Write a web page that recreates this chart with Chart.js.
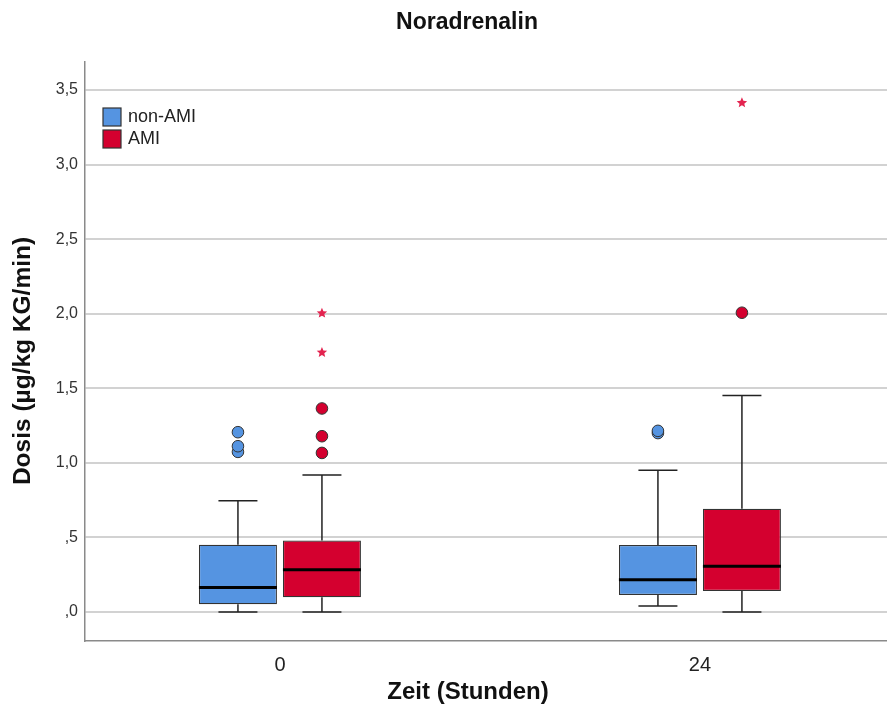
<!DOCTYPE html>
<html>
<head>
<meta charset="utf-8">
<script src="https://cdn.jsdelivr.net/npm/chart.js@4.4.1/dist/chart.umd.min.js"></script>
<style>
  body { margin: 0; background: #fff; }
  canvas { display: block; }
</style>
</head>
<body>
<canvas id="boxplotNoradrenalin" width="887" height="709"></canvas>
<script>
// Zeitpunkte (Stunden)
const zeitpunkte = ['0', '24'];
const yTicks = [0, 0.5, 1, 1.5, 2, 2.5, 3, 3.5];

// non-AMI
const nonAmiMin = [0.0, 0.04];
const nonAmiQ1 = [0.052, 0.115];
const nonAmiMedian = [0.164, 0.216];
const nonAmiQ3 = [0.451, 0.449];
const nonAmiMax = [0.747, 0.951];
const nonAmiAusreisser = [[1.074, 1.112, 1.206], [1.20, 1.215]];
const nonAmiExtrem = [[], []];

// AMI
const amiMin = [0.0, 0.0];
const amiQ1 = [0.099, 0.141];
const amiMedian = [0.283, 0.308];
const amiQ3 = [0.480, 0.692];
const amiMax = [0.919, 1.452];
const amiAusreisser = [[1.067, 1.179, 1.365], [2.007]];
const amiExtrem = [[1.740, 2.004], [3.414]];

const blau = '#5594e1';
const rot = '#d4002f';
const stern = '#e3234f';
const schrift = "'Liberation Sans', Arial, sans-serif";

const stats = [
	{ min: nonAmiMin, med: nonAmiMedian, max: nonAmiMax, out: nonAmiAusreisser, ext: nonAmiExtrem, color: blau },
	{ min: amiMin, med: amiMedian, max: amiMax, out: amiAusreisser, ext: amiExtrem, color: rot },
];

function stern5(ctx, x, y, r) {
	ctx.beginPath();
	for (let k = 0; k < 10; k++) {
		const rr = k % 2 === 0 ? r : r * 0.45;
		const a = -Math.PI / 2 + k * Math.PI / 5;
		ctx.lineTo(x + rr * Math.cos(a), y + rr * Math.sin(a));
	}
	ctx.closePath();
	ctx.fill();
}

const boxPlugin = {
	id: 'boxWhiskers',
	afterDatasetsDraw(chart) {
		const ctx = chart.ctx;
		const ys = chart.scales.y;
		chart.data.datasets.forEach(function (ds, di) {
			const st = stats[di];
			const meta = chart.getDatasetMeta(di);
			meta.data.forEach(function (bar, i) {
				const x = bar.x;
				const half = bar.width / 2;
				const cap = half / 2;
				const pMax = ys.getPixelForValue(st.max[i]);
				const pMin = ys.getPixelForValue(st.min[i]);
				const pQ3 = ys.getPixelForValue(ds.data[i].y[1]);
				const pQ1 = ys.getPixelForValue(ds.data[i].y[0]);
				const pMed = ys.getPixelForValue(st.med[i]);

				ctx.save();
				ctx.strokeStyle = '#222';
				ctx.lineWidth = 1.5;
				ctx.beginPath();
				ctx.moveTo(x, pQ3); ctx.lineTo(x, pMax);
				ctx.moveTo(x - cap, pMax); ctx.lineTo(x + cap, pMax);
				ctx.moveTo(x, pQ1); ctx.lineTo(x, pMin);
				ctx.moveTo(x - cap, pMin); ctx.lineTo(x + cap, pMin);
				ctx.stroke();

				ctx.strokeStyle = '#000';
				ctx.lineWidth = 3;
				ctx.beginPath();
				ctx.moveTo(x - half, pMed); ctx.lineTo(x + half, pMed);
				ctx.stroke();

				ctx.fillStyle = st.color;
				ctx.strokeStyle = '#333';
				ctx.lineWidth = 1;
				st.out[i].forEach(function (v) {
					ctx.beginPath();
					ctx.arc(x, ys.getPixelForValue(v), 5.8, 0, Math.PI * 2);
					ctx.fill();
					ctx.stroke();
				});
				ctx.fillStyle = stern;
				st.ext[i].forEach(function (v) {
					stern5(ctx, x, ys.getPixelForValue(v), 5.5);
				});
				ctx.restore();
			});
		});
	},
	afterDraw(chart) {
		const ctx = chart.ctx;
		ctx.save();
		ctx.fillStyle = '#111';
		ctx.textAlign = 'center';
		ctx.textBaseline = 'middle';
		ctx.font = 'bold 23px ' + schrift;
		ctx.fillText('Noradrenalin', 467, 23);
		ctx.font = 'bold 24px ' + schrift;
		ctx.fillText('Zeit (Stunden)', 468, 692);
		ctx.translate(23, 361);
		ctx.rotate(-Math.PI / 2);
		ctx.font = 'bold 24.5px ' + schrift;
		ctx.fillText('Dosis (µg/kg KG/min)', 0, 0);
		ctx.restore();

		// Legende
		ctx.save();
		ctx.font = '18px ' + schrift;
		ctx.textBaseline = 'middle';
		chart.data.datasets.forEach(function (ds, di) {
			const top = 108 + di * 22;
			ctx.fillStyle = ds.backgroundColor;
			ctx.fillRect(103, top, 18, 18);
			ctx.strokeStyle = '#333';
			ctx.lineWidth = 1.2;
			ctx.strokeRect(103, top, 18, 18);
			ctx.fillStyle = '#222';
			ctx.fillText(ds.label, 128, top + 9);
		});
		ctx.restore();
	},
};

function spssZahl(v) {
	let s = v.toFixed(1).replace('.', ',');
	if (s.startsWith('0')) s = s.slice(1);
	return s;
}

const ctx = document.getElementById('boxplotNoradrenalin').getContext('2d');

new Chart(ctx, {
	type: 'bar',
	data: {
		datasets: [
			{
				label: 'non-AMI',
				data: zeitpunkte.map((z, i) => ({ x: Number(z), y: [nonAmiQ1[i], nonAmiQ3[i]] })),
				backgroundColor: blau,
				borderColor: '#333',
				borderWidth: 1.2,
				borderSkipped: false,
			},
			{
				label: 'AMI',
				data: zeitpunkte.map((z, i) => ({ x: Number(z), y: [amiQ1[i], amiQ3[i]] })),
				backgroundColor: rot,
				borderColor: '#333',
				borderWidth: 1.2,
				borderSkipped: false,
			},
		],
	},
	options: {
		responsive: false,
		animation: false,
		categoryPercentage: 0.4,
		barPercentage: 0.9286,
		layout: { padding: { top: 62, left: 0, right: 0, bottom: 0 } },
		plugins: {
			legend: { display: false },
			tooltip: { enabled: false },
			title: { display: false },
		},
		scales: {
			x: {
				type: 'linear',
				offset: false,
				min: -11.14,
				max: 34.69,
				afterBuildTicks: (scale) => { scale.ticks = zeitpunkte.map(z => ({ value: Number(z) })); },
				afterFit: (scale) => { scale.height = 68; },
				ticks: {
					callback: (v) => String(v),
					font: { family: schrift, size: 20 },
					color: '#222',
					padding: 12,
					maxRotation: 0,
				},
				grid: { display: false, drawTicks: false },
				border: { display: true, color: '#8a8a8a', width: 1.5 },
			},
			y: {
				min: -0.194,
				max: 3.688,
				afterBuildTicks: (scale) => { scale.ticks = yTicks.map(v => ({ value: v })); },
				afterFit: (scale) => { scale.width = 85; },
				ticks: {
					callback: (v) => spssZahl(v),
					font: { family: schrift, size: 16 },
					color: '#333',
					padding: 7,
				},
				grid: { color: '#d2d2d2', lineWidth: 2, drawTicks: false },
				border: { display: true, color: '#8a8a8a', width: 1.5 },
			},
		},
	},
	plugins: [boxPlugin],
});
</script>
</body>
</html>
